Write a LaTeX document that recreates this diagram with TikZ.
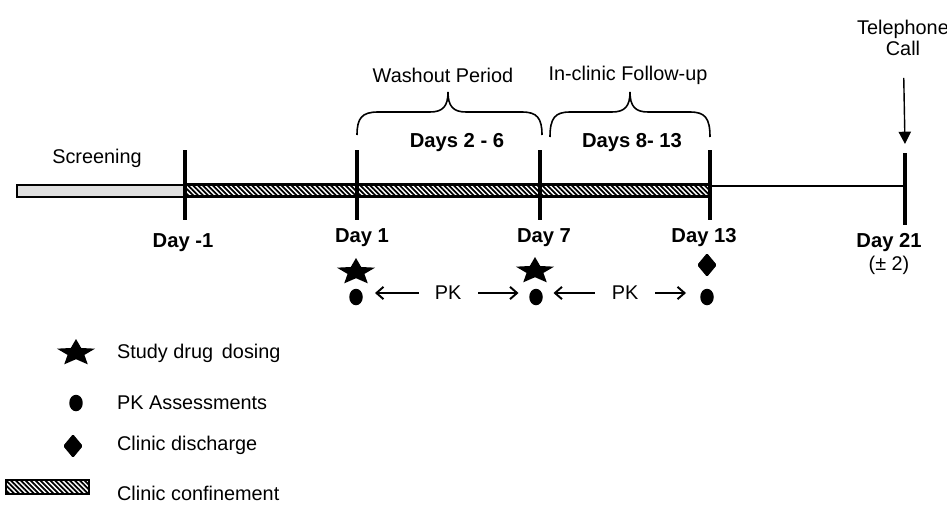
\documentclass[tikz,border=0pt]{standalone}
\usepackage{fontspec}
\setmainfont{Liberation Sans}
\usetikzlibrary{positioning}
\usetikzlibrary{arrows.meta}
\usetikzlibrary{patterns}
\usetikzlibrary{shapes.geometric}

% dense hatching for the confinement bar
\pgfdeclarepatternformonly{confinelines}{\pgfqpoint{-1pt}{-1pt}}{\pgfqpoint{3.8pt}{3.8pt}}{\pgfqpoint{2.8pt}{2.8pt}}{
    \pgfsetlinewidth{1pt}
    \pgfpathmoveto{\pgfqpoint{0pt}{2.8pt}}
    \pgfpathlineto{\pgfqpoint{2.8pt}{0pt}}
    \pgfusepath{stroke}
}

\tikzset{
    dosestar/.pic={
        \fill[xscale=1.43, yscale=-1] (90:14) \foreach \a in {1,...,4} { -- (54+72*\a:6.2) -- (90+72*\a:14) } -- (54:6.2) -- cycle;
    }
}

\begin{document}
\begin{tikzpicture}[x=0.02cm, y=-0.02cm,
    every node/.style={font=\fontsize{11.3}{13}\selectfont, inner sep=1pt},
    daytick/.style={line width=2.2pt},
    daylbl/.style={font=\fontsize{11.5}{13}\selectfont\bfseries},
    pkdot/.style={ellipse, fill=black, minimum width=0.27cm, minimum height=0.33cm, inner sep=0pt},
    discharge/.style={diamond, fill=black, rounded corners=0.8pt, minimum width=0.4cm, minimum height=0.48cm, inner sep=0pt},
    confine/.style={draw=black, line width=1.6pt, fill=white, postaction={pattern=confinelines}},
    pkarrow/.style={-{Straight Barb[length=4pt, width=7pt]}, line width=1.1pt},
    legtext/.style={anchor=west}]
    \useasboundingbox (0,0) rectangle (947,504);

    % timeline bars
    \draw[fill=gray!25, line width=1pt] (17,185) rectangle (185,197);
    \draw[confine] (185,184.5) rectangle (710,196.5);
    \draw[line width=0.8pt] (710,186) -- (905,186);

    % day ticks
    \foreach \x in {185,357,540,710} {
        \draw[daytick] (\x,150) -- (\x,220);
    }
    \draw[daytick] (905,153) -- (905,225);

    \node (scr) at (97,158) {Screening};

    \node[daylbl] (dm1) at (183,243) {Day -1};
    \node[daylbl] (d1)  at (362,238) {Day 1};
    \node[daylbl] (d7)  at (544,238) {Day 7};
    \node[daylbl] (d13) at (704,238) {Day 13};
    \node[daylbl] (d21) at (889,243) {Day 21};
    \node (pm2) [below=0pt of d21] {(\textpm\ 2)};

    % phase braces
    \draw[line width=0.9pt] (357,135) .. controls (357,118) and (362,112) .. (378,112) -- (430,112)
        .. controls (443,112) and (448,106) .. (448,92) .. controls (448,106) and (453,112) .. (466,112)
        -- (522,112) .. controls (537,112) and (542,118) .. (542,135);
    \draw[line width=0.9pt] (550,137) .. controls (550,118) and (555,112) .. (570,112) -- (612,112)
        .. controls (625,112) and (630,106) .. (630,92) .. controls (630,106) and (635,112) .. (648,112)
        -- (690,112) .. controls (705,112) and (710,118) .. (710,137);

    \node (wash) at (443,75) {Washout Period};
    \node (foll) at (628,75) {In-clinic Follow-up};
    \node[daylbl] (d26)  at (457,143) {Days 2 - 6};
    \node[daylbl] (d813) at (632,143) {Days 8- 13};

    % telephone call
    \node[align=center] (tel) at (903,38) {Telephone\\[-1pt]Call};
    \coordinate (telend) at (905,144);
    \draw[-{Triangle[length=7pt, width=7pt]}, line width=0.8pt, shorten <=0.4cm] (tel) -- (telend);

    % dosing, PK and discharge marks
    \pic (s1) at (356,272) {dosestar};
    \pic (s7) at (535,271) {dosestar};
    \node[discharge] (dis) at (707,265) {};
    \node[pkdot] (p1)  at (356,297) {};
    \node[pkdot] (p7)  at (536,297) {};
    \node[pkdot] (p13) at (707,297) {};

    \node (pk1) at (448,293) {PK};
    \node (pk2) at (625,293) {PK};
    \draw[pkarrow, shorten <=0.28cm, shorten >=0.38cm] (pk1) -- (pk1 -| p1);
    \draw[pkarrow, shorten <=0.3cm, shorten >=0.35cm] (pk1) -- (pk1 -| p7);
    \draw[pkarrow, shorten <=0.3cm, shorten >=0.35cm] (pk2) -- (pk2 -| p7);
    \draw[pkarrow, shorten <=0.3cm, shorten >=0.42cm] (pk2) -- (pk2 -| p13);

    % legend
    \pic (lstar) at (76,353) {dosestar};
    \node[pkdot] (ldot) at (76,403) {};
    \node[discharge] (ldis) at (73,446) {};
    \draw[confine] (6,480) rectangle (89,494);

    \node[legtext] (lg1) at (115,353) {Study drug\, dosing};
    \node[legtext] (lg2) at (115,403) {PK Assessments};
    \node[legtext] (lg3) at (115,445) {Clinic discharge};
    \node[legtext] (lg4) at (115,493) {Clinic confinement};
\end{tikzpicture}
\end{document}
